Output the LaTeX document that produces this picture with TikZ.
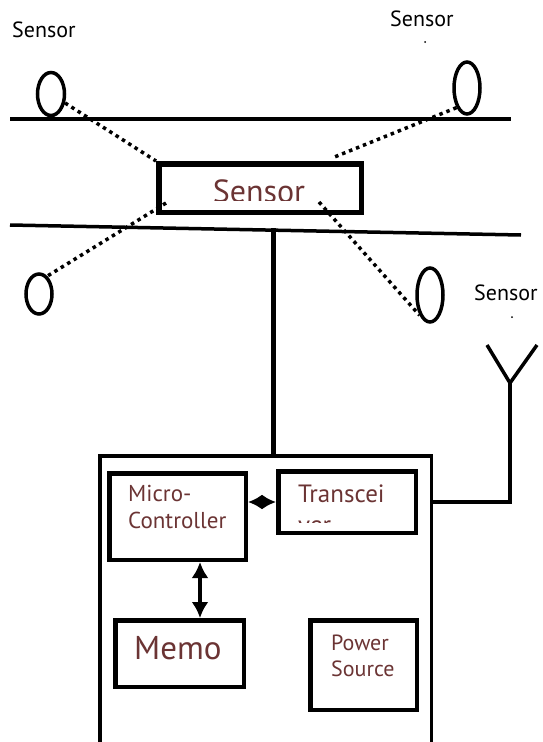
\documentclass[tikz,border=0pt]{standalone}
\usepackage{fontspec}
\setmainfont{PT Sans}
\usetikzlibrary{shapes.geometric,arrows.meta}
\definecolor{ink}{HTML}{6B3434}
\tikzset{
  probe/.style={draw,ellipse,line width=3.5pt,inner sep=0pt},
  tag/.style={inner sep=0pt,anchor=north west,font=\fontsize{22}{26}\selectfont},
  rail/.style={line width=3.5pt},
  link/.style={line width=3.5pt,dash pattern=on 3.5pt off 4pt},
  unitbox/.style={draw,line width=4.5pt,inner sep=0pt},
  note/.style={text=ink,inner sep=0pt,align=left,anchor=north west},
  bus/.style={line width=3.5pt,{Latex[length=14pt,width=15pt]}-{Latex[length=14pt,width=15pt]}},
  updown/.style={line width=3.5pt,{Latex[length=16pt,width=17pt]}-{Latex[length=16pt,width=17pt]}},
  wire/.style={line width=3.5pt}
}
\begin{document}
\begin{tikzpicture}[x=1pt,y=-1pt]
\clip (0,0) rectangle (543,742);
% the two rails
\draw[rail] (10,119) -- (511,119);
\draw[rail] (10,225) -- (521,235);
% the sensors beside the rails
\node[probe,minimum width=27pt,minimum height=43pt] (s1) at (51,94) {};
\node[probe,minimum width=26pt,minimum height=52pt] (s2) at (467,88) {};
\node[probe,minimum width=26pt,minimum height=40pt] (s3) at (39,294) {};
\node[probe,minimum width=26pt,minimum height=54pt] (s4) at (430,295) {};
\node[tag] (l1) at (12,22) {Sensor};
\node[tag] (l2) at (390,11) {Sensor};
\node[tag] (l4) at (474,285) {Sensor};
\fill (425,42) circle (1pt);
\fill (512,317) circle (1pt);
% the collecting node
\node[draw,line width=5.5pt,inner sep=0pt,minimum width=202.5pt,minimum height=48.5pt] (hub) at (260,188) {};
\begin{scope}
\clip (165,168) rectangle (357,200);
\node[note,anchor=north,font=\fontsize{32}{38}\selectfont] (hubtext) at (259,180) {Sensor};
\end{scope}
\coordinate (hubtr) at ([xshift=-32pt,yshift=3pt]hub.north east);
\coordinate (hubbl) at (166,203);
\coordinate (hubbr) at (319,202);
\draw[link] (s1) -- (hub.north west);
\draw[link] (s2.south west) -- (hubtr);
\draw[link] (hubbl) -- (s3.65);
\draw[link] (hubbr) -- (s4.south west);
% the mote
\coordinate (tap) at (273,228);
\node[draw,line width=3.5pt,inner sep=0pt,anchor=north west,minimum width=331.5pt,minimum height=320pt] (mote) at (98,454) {};
\draw[line width=5pt] (tap) -- (tap |- mote.north);
\node[unitbox,minimum width=136.5pt,minimum height=86.5pt] (mcu) at (177.5,516.5) {};
\node[unitbox,minimum width=137.5pt,minimum height=61.5pt] (trx) at (347,502) {};
\node[unitbox,minimum width=128.5pt,minimum height=66.5pt] (mem) at (179.5,653.5) {};
\node[unitbox,minimum width=106.5pt,minimum height=89.5pt] (pwr) at (363.5,665) {};
\node[note,font=\fontsize{23}{27}\selectfont] (mcutext) at (128,485) {Micro-\\Controller};
\begin{scope}
\clip (280,472) rectangle (414,522);
\node[note,font=\fontsize{25}{31}\selectfont] (trxtext) at (298,485) {Transcei\\ver};
\end{scope}
\node[note,font=\fontsize{33}{38}\selectfont] (memtext) at (134,636) {Memo};
\node[note,font=\fontsize{22}{26}\selectfont] (pwrtext) at (331,635) {Power\\Source};
\coordinate (bx) at (200,0);
\draw[bus] (trx.west -| mcu.east) -- (trx.west);
\draw[updown] (mcu.south -| bx) -- (mem.north -| bx);
% the antenna
\coordinate (feed) at (510,383);
\coordinate (armL) at (487,345);
\coordinate (armR) at (537,345);
\draw[wire] (trx.east -| mote.east) -- (trx.east -| feed) -- (feed);
\draw[wire] (armL) -- (feed) -- (armR);
\end{tikzpicture}
\end{document}
